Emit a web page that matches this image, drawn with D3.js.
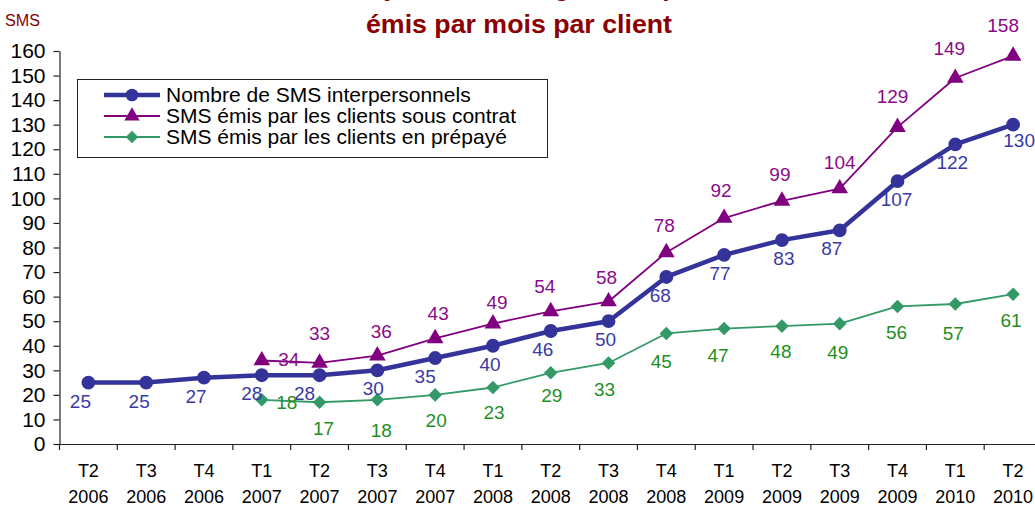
<!DOCTYPE html>
<html>
<head>
<meta charset="utf-8">
<script src="https://cdn.jsdelivr.net/npm/d3@7"></script>
<style>
  html, body { margin: 0; padding: 0; background: #fff; }
  svg { display: block; font-family: "Liberation Sans", Arial, sans-serif; }
</style>
</head>
<body>
<svg id="chart" width="1035" height="506"></svg>
<script>
// ---- data ----
const quarters = ["T2","T3","T4","T1","T2","T3","T4","T1","T2","T3","T4","T1","T2","T3","T4","T1","T2"];
const years    = ["2006","2006","2006","2007","2007","2007","2007","2008","2008","2008","2008","2009","2009","2009","2009","2010","2010"];
const seriesNames = ["Nombre de SMS interpersonnels", "SMS émis par les clients sous contrat", "SMS émis par les clients en prépayé"];
const totalSMS    = [25, 25, 27, 28, 28, 30, 35, 40, 46, 50, 68, 77, 83, 87, 107, 122, 130];
const contractSMS = [null, null, null, 34, 33, 36, 43, 49, 54, 58, 78, 92, 99, 104, 129, 149, 158];
const prepaidSMS  = [null, null, null, 18, 17, 18, 20, 23, 29, 33, 45, 47, 48, 49, 56, 57, 61];
const yTicks = [0,10,20,30,40,50,60,70,80,90,100,110,120,130,140,150,160];
const titleLines = ["Nombre moyen de messages interpersonnels", "émis par mois par client"];
const yAxisTitle = "SMS";

// label nudges (dx, dy in px relative to default label placement)
const totalNudge    = [[-8,0],[-7,0],[-8,0],[-10,0],[-15,0],[-4,0],[-10,0],[-3,0],[-8,0],[-3,0],[-6,0],[-4,0],[2,0],[-8,0],[-1,0],[-3,0],[6,-3]];
const contractNudge = [null,null,null,[27,26],[0,-3],[4,2],[3,2],[4,5],[-6,2],[-2,2],[-2,0],[-3,-1],[-2,0],[0,0],[-5,-4],[-6,-3],[-10,-4]];
const prepaidNudge  = [null,null,null,[25,-24],[4,0],[4,4],[1,-1],[1,-2],[1,-4],[-4,0],[-5,2],[-6,0],[-1,-1],[-2,2],[-1,0],[-2,3],[-2,0]];

// ---- layout ----
const svg = d3.select("#chart");
const plotLeft = 59.5, plotRight = 1042, plotTop = 51, plotBottom = 444;

const x = d3.scaleBand().domain(d3.range(quarters.length)).range([plotLeft, plotRight]).padding(0);
const y = d3.scaleLinear().domain([0, 160]).range([plotBottom, plotTop]);
const cx = i => x(i) + x.bandwidth() / 2;

const darkRed = "#8B0000";

// titles
svg.append("text").attr("x", 520).attr("y", -4).attr("text-anchor", "middle")
  .attr("font-size", 26).attr("font-weight", "bold").attr("fill", darkRed).text(titleLines[0]);
svg.append("text").attr("x", 519).attr("y", 33).attr("text-anchor", "middle")
  .attr("font-size", 26).attr("font-weight", "bold").attr("fill", darkRed)
  .attr("textLength", 306).attr("lengthAdjust", "spacingAndGlyphs").text(titleLines[1]);
svg.append("text").attr("x", 5).attr("y", 26).attr("font-size", 16).attr("fill", darkRed)
  .attr("textLength", 35).attr("lengthAdjust", "spacingAndGlyphs").text(yAxisTitle);

// y axis
const yAxis = d3.axisLeft(y).tickValues(yTicks).tickSize(6).tickSizeOuter(0).tickPadding(8);
const gy = svg.append("g").attr("transform", `translate(${plotLeft},0)`).call(yAxis);
gy.select(".domain").attr("stroke", "#222").attr("stroke-width", 1.2);
gy.selectAll(".tick line").attr("stroke", "#222").attr("stroke-width", 1.2);
gy.selectAll(".tick text").attr("font-size", 21).attr("fill", "#000")
  .attr("font-family", "'Liberation Sans', Arial, sans-serif");

// x axis
const xAxis = d3.axisBottom(x).tickSize(0).tickFormat(() => "");
const gx = svg.append("g").attr("transform", `translate(0,${plotBottom})`).call(xAxis);
gx.select(".domain").attr("stroke", "#222").attr("stroke-width", 1.2);
// boundary ticks
const bounds = d3.range(quarters.length + 1).map(i => plotLeft + i * x.bandwidth());
svg.append("g").selectAll("line").data(bounds).join("line")
  .attr("x1", d => d).attr("x2", d => d).attr("y1", plotBottom).attr("y2", plotBottom + 6)
  .attr("stroke", "#222").attr("stroke-width", 1.2);
// x labels
const xl = svg.append("g");
quarters.forEach((q, i) => {
  xl.append("text").attr("x", cx(i)).attr("y", 477).attr("text-anchor", "middle")
    .attr("font-size", 18).attr("fill", "#000").text(q);
  xl.append("text").attr("x", cx(i)).attr("y", 503).attr("text-anchor", "middle")
    .attr("font-size", 18).attr("fill", "#000").text(years[i]);
});

// series definitions
const series = [
  { values: totalSMS, color: "#333399", labelColor: "#3A3AA6", width: 4.5, marker: "circle", nudge: totalNudge, labelDy: 25 },
  { values: contractSMS, color: "#800080", labelColor: "#8A0A8A", width: 1.8, marker: "triangle", nudge: contractNudge, labelDy: -20 },
  { values: prepaidSMS, color: "#339966", labelColor: "#1F8F1F", width: 1.8, marker: "diamond", nudge: prepaidNudge, labelDy: 33 }
];

const symbolFor = m => m === "circle" ? d3.symbolCircle : m === "triangle" ? d3.symbolTriangle : d3.symbolSquare;
const sizeFor = m => m === "circle" ? 150 : m === "triangle" ? 120 : 92;
const rotFor = m => m === "diamond" ? 45 : 0;

// draw in order: prepaid, contract, total on top
[2, 1, 0].forEach(si => {
  const s = series[si];
  const pts = s.values.map((v, i) => ({ v, i })).filter(d => d.v !== null);
  const line = d3.line().x(d => cx(d.i)).y(d => y(d.v));
  svg.append("path").datum(pts).attr("d", line).attr("fill", "none")
    .attr("stroke", s.color).attr("stroke-width", s.width).attr("stroke-linejoin", "round");
  svg.append("g").selectAll("path").data(pts).join("path")
    .attr("d", d3.symbol().type(symbolFor(s.marker)).size(sizeFor(s.marker)))
    .attr("transform", d => `translate(${cx(d.i)},${y(d.v)}) rotate(${rotFor(s.marker)})`)
    .attr("fill", s.color);
});
// labels
series.forEach(s => {
  const pts = s.values.map((v, i) => ({ v, i })).filter(d => d.v !== null);
  svg.append("g").selectAll("text").data(pts).join("text")
    .attr("x", d => cx(d.i) + s.nudge[d.i][0])
    .attr("y", d => y(d.v) + s.labelDy + s.nudge[d.i][1])
    .attr("text-anchor", "middle").attr("font-size", 19).attr("fill", s.labelColor)
    .text(d => d.v);
});

// legend
const lg = svg.append("g");
lg.append("rect").attr("x", 77.5).attr("y", 79.5).attr("width", 470).attr("height", 78)
  .attr("fill", "#fff").attr("stroke", "#222").attr("stroke-width", 1);
series.forEach((s, k) => {
  const ly = 95 + k * 21;
  lg.append("line").attr("x1", 104).attr("x2", 160).attr("y1", ly).attr("y2", ly)
    .attr("stroke", s.color).attr("stroke-width", s.width);
  lg.append("path").attr("d", d3.symbol().type(symbolFor(s.marker)).size(sizeFor(s.marker) * 0.85)())
    .attr("transform", `translate(132,${ly}) rotate(${rotFor(s.marker)})`).attr("fill", s.color);
  lg.append("text").attr("x", 166).attr("y", ly + 7).attr("font-size", 21).attr("fill", "#000")
    .text(seriesNames[k]);
});
</script>
</body>
</html>
